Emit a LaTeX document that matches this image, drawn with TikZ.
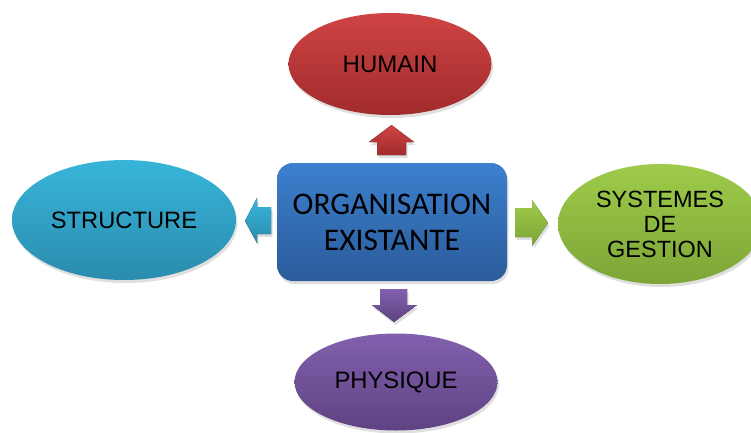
\documentclass[tikz,border=0pt]{standalone}
\usepackage{fontspec}
\setmainfont{Liberation Sans}
\newfontfamily\calibrifont{Carlito}
\usetikzlibrary{shapes.geometric,shadows}
\definecolor{redT}{HTML}{CF4444}
\definecolor{redB}{HTML}{A12B2C}
\definecolor{blueT}{HTML}{3C80CE}
\definecolor{blueB}{HTML}{2B5B9A}
\definecolor{tealT}{HTML}{38B5DA}
\definecolor{tealB}{HTML}{2A8CAE}
\definecolor{greenT}{HTML}{9ECB4A}
\definecolor{greenB}{HTML}{7DA537}
\definecolor{purpT}{HTML}{8260AE}
\definecolor{purpB}{HTML}{5E4282}
\tikzset{
  shad/.style={drop shadow={opacity=0.25,shadow xshift=1.5pt,shadow yshift=-3pt}},
  oval/.style={ellipse,inner sep=0pt,shad,font=\fontsize{24}{26}\selectfont,align=center},
  blockarrow/.style={draw=none,shad},
}
\begin{document}
\begin{tikzpicture}[x=1pt,y=-1pt]
\clip (0,0) rectangle (751,432);
\fill[white] (0,0) rectangle (751,432);
% central box
\node[rounded corners=16pt,minimum width=230pt,minimum height=118pt,
  top color=blueT,bottom color=blueB,shad,inner sep=0pt,align=center,
  font=\calibrifont\fontsize{31.5}{36}\selectfont] (org) at (392,222)
  {ORGANISATION\\EXISTANTE};
% ellipses
\node[oval,minimum width=203pt,minimum height=102pt,top color=redT,bottom color=redB] (hum) at (390,64) {HUMAIN};
\node[oval,minimum width=224pt,minimum height=120pt,top color=tealT,bottom color=tealB,font=\fontsize{23.7}{26}\selectfont] (str) at (124,220) {STRUCTURE};
\node[oval,minimum width=204pt,minimum height=120pt,top color=greenT,bottom color=greenB,font=\fontsize{23.5}{25}\selectfont] (sys) at (660,224) {SYSTEMES\\DE\\GESTION};
\node[oval,minimum width=203pt,minimum height=97pt,top color=purpT,bottom color=purpB,font=\fontsize{23.8}{26}\selectfont] (phy) at (396,382) {PHYSIQUE};
% block arrows
\fill[blockarrow,top color=redT,bottom color=redB]
  (377,155) -- (377,142) -- (369,142) -- (391.5,125) -- (414,142) -- (406,142) -- (406,155) -- cycle;
\fill[blockarrow,top color=purpT,bottom color=purpB]
  (380,289) -- (407,289) -- (407,305) -- (417,305) -- (394,322) -- (372,305) -- (380,305) -- cycle;
\fill[blockarrow,top color=tealT,bottom color=tealB]
  (271,207) -- (271,234) -- (257,234) -- (257,243) -- (245,221) -- (257,198) -- (257,207) -- cycle;
\fill[blockarrow,top color=greenT,bottom color=greenB]
  (515,208) -- (532,208) -- (532,200) -- (548,223) -- (532,246) -- (532,237) -- (515,237) -- cycle;
\end{tikzpicture}
\end{document}
